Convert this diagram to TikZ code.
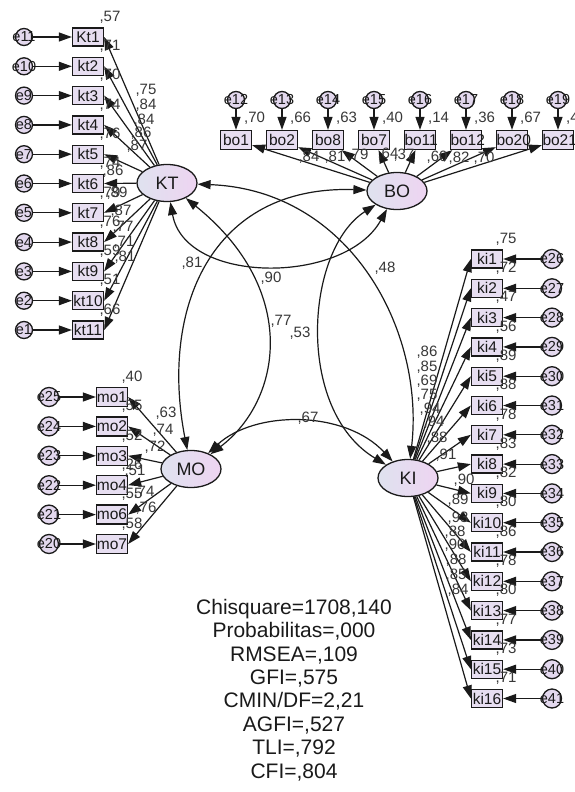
\documentclass[tikz,border=0pt]{standalone}
\usepackage{fontspec}
\setmainfont{Liberation Sans}
\usetikzlibrary{shapes.geometric,arrows.meta}

\definecolor{obsfill}{HTML}{E7DEF1}
\definecolor{errfill}{HTML}{E3D8EE}
\definecolor{latleft}{HTML}{DFE2EF}
\definecolor{latright}{HTML}{EED4F1}
\definecolor{ink}{HTML}{1A1A1A}
\definecolor{numink}{HTML}{383838}

\tikzset{
  obs/.style={rectangle, draw=ink, line width=1.3pt, fill=obsfill,
    text width=31pt, align=center, minimum height=18pt, inner sep=0pt,
    font=\fontsize{15.5}{15.5}\selectfont, text=ink},
  errc/.style={circle, draw=ink, line width=1.3pt, fill=errfill,
    minimum size=17pt, inner sep=0pt},
  errtxt/.style={inner sep=0pt, font=\fontsize{14.5}{14.5}\selectfont, text=ink},
  lat/.style={ellipse, draw=ink, line width=1.3pt, left color=latleft, right color=latright,
    minimum width=60pt, minimum height=37pt, inner sep=0pt,
    font=\fontsize{18}{18}\selectfont, text=ink},
  reg/.style={draw=ink, line width=1.2pt, -{Triangle[length=13pt,width=9pt]}},
  cov/.style={draw=ink, line width=1.2pt,
    {Triangle[length=13pt,width=9pt]}-{Triangle[length=13pt,width=9pt]}},
  num/.style={inner sep=0pt, font=\fontsize{15}{15}\selectfont, text=numink},
}

\begin{document}
\begin{tikzpicture}[x=1pt,y=-1pt]
\fill[white] (0,0) rectangle (574,792);
\useasboundingbox (0,0) rectangle (574,792);

% latent constructs
\node[lat] (KT) at (167,183) {KT};
\node[lat] (BO) at (397,191) {BO};
\node[lat] (MO) at (191,469) {MO};
\node[lat] (KI) at (408,478) {KI};

% KT indicators (left column)
\foreach \lab/\err [count=\i] in {Kt1/e11,kt2/e10,kt3/e9,kt4/e8,kt5/e7,kt6/e6,
    kt7/e5,kt8/e4,kt9/e3,kt10/e2,kt11/e1}{
  \pgfmathsetmacro\yy{37+29.3*(\i-1)}
  \node[obs] (\lab) at (88,\yy) {\lab};
  \node[errc] (\err) at (24,\yy) {};
  \node[errtxt] (\err t) at (\err) {\err};
  \draw[reg] (\err) -- (\lab);
  \draw[reg] (KT) -- (\lab.east);
}

% BO indicators (top row)
\foreach \lab/\err [count=\i] in {bo1/e12,bo2/e13,bo8/e14,bo7/e15,bo11/e16,
    bo12/e17,bo20/e18,bo21/e19}{
  \pgfmathsetmacro\xx{236+46*(\i-1)}
  \node[obs, minimum height=19pt] (\lab) at (\xx,140) {\lab};
  \node[errc] (\err) at (\xx,100) {};
  \node[errtxt] (\err t) at (\err) {\err};
  \draw[reg] (\err) -- (\lab);
  \draw[reg] (BO) -- (\lab);
}

% KI indicators (right column)
\foreach \lab/\err [count=\i] in {ki1/e26,ki2/e27,ki3/e28,ki4/e29,ki5/e30,ki6/e31,
    ki7/e32,ki8/e33,ki9/e34,ki10/e35,ki11/e36,ki12/e37,ki13/e38,ki14/e39,ki15/e40,ki16/e41}{
  \pgfmathsetmacro\yy{259+29.3*(\i-1)}
  \node[obs] (\lab) at (487,\yy) {\lab};
  \node[errc, minimum size=19pt] (\err) at (552,\yy) {};
  \node[errtxt] (\err t) at (\err) {\err};
  \draw[reg] (\err) -- (\lab);
  \draw[reg] (KI) -- (\lab.west);
}

% MO indicators
\foreach \lab/\err [count=\i] in {mo1/e25,mo2/e24,mo3/e23,mo4/e22,mo6/e21,mo7/e20}{
  \pgfmathsetmacro\yy{397+29.4*(\i-1)}
  \node[obs, minimum height=19pt] (\lab) at (112,\yy) {\lab};
  \node[errc, minimum size=19pt] (\err) at (49,\yy) {};
  \node[errtxt] (\err t) at (\err) {\err};
  \draw[reg] (\err) -- (\lab);
  \draw[reg] (MO) -- (\lab.east);
}

% correlations between constructs
\draw[cov] (KT) .. controls +(183,7) and +(17,-148) .. (KI);
\draw[cov] (KT) .. controls +(133,107) and +(91,-69) .. (MO);
\draw[cov] (KT) .. controls +(18,102) and +(-52,94) .. (BO);
\draw[cov] (BO) .. controls +(-187,-6) and +(-31,-159) .. (MO);
\draw[cov] (BO) .. controls +(-92,59) and +(-113,-68) .. (KI);
\draw[cov] (MO) .. controls +(64,-59) and +(-63,-68) .. (KI);

\node[num] (rKTKI) at (385,268) {,48};
\node[num] (rKTMO) at (281,321) {,77};
\node[num] (rKTBO) at (271,278) {,90};
\node[num] (rBOMO) at (192,263) {,81};
\node[num] (rBOKI) at (300,333) {,53};
\node[num] (rMOKI) at (308,418) {,67};

% squared multiple correlations
\foreach \v [count=\i] in {57,71,70,74,76,74,79,76,59,51,66}{
  \pgfmathsetmacro\yy{37+29.3*(\i-1)-20}
  \node[num] (sqkt\i) at (110,\yy) {,\v};
}
\foreach \v [count=\i] in {70,66,63,40,14,36,67,4}{
  \pgfmathsetmacro\xx{236+46*(\i-1)+8}
  \node[num, anchor=west] (sqbo\i) at (\xx,118) {,\v};
}
\foreach \v [count=\i] in {75,72,47,56,89,88,78,83,82,80,86,78,80,77,73,71}{
  \pgfmathsetmacro\yy{259+29.3*(\i-1)-20}
  \node[num] (sqki\i) at (506,\yy) {,\v};
}
\foreach \v [count=\i] in {40,55,52,26,55,58}{
  \pgfmathsetmacro\yy{397+29.4*(\i-1)-20}
  \node[num] (sqmo\i) at (132,\yy) {,\v};
}

% standardized loadings
\foreach \v/\px/\py [count=\i] in {75/146/90,84/146/105,84/144/120,86/141/133,
    87/137/146,86/113/171,89/117/193,87/121/211,77/123/227,71/124/242,81/125/257}{
  \node[num] (ldkt\i) at (\px,\py) {,\v};
}
\foreach \v/\px/\py [count=\i] in {84/309/157,81/335/157,79/358/155,64/388/154,
    37/404/155,60/437/157,82/459/158,70/484/158}{
  \node[num] (ldbo\i) at (\px,\py) {,\v};
}
\foreach \v/\px/\py [count=\i] in {86/427/352,85/427/367,69/427/381,75/427/395,
    94/430/409,94/434/422,88/437/438,91/446/455,90/464/480,89/458/500,93/458/518,
    88/455/532,90/455/545,88/456/560,85/456/575,84/458/590}{
  \node[num] (ldki\i) at (\px,\py) {,\v};
}
\foreach \v/\px/\py [count=\i] in {63/166/413,74/163/430,72/155/447,51/135/471,
    74/144/492,76/146/508}{
  \node[num] (ldmo\i) at (\px,\py) {,\v};
}

% fit indices
\node[align=center, inner sep=0pt, font=\fontsize{21}{23.4}\selectfont, text=ink]
  (fit) at (294,690) {Chisquare=1708,140\\Probabilitas=,000\\RMSEA=,109\\GFI=,575\\
  CMIN/DF=2,21\\AGFI=,527\\TLI=,792\\CFI=,804};
\end{tikzpicture}
\end{document}
